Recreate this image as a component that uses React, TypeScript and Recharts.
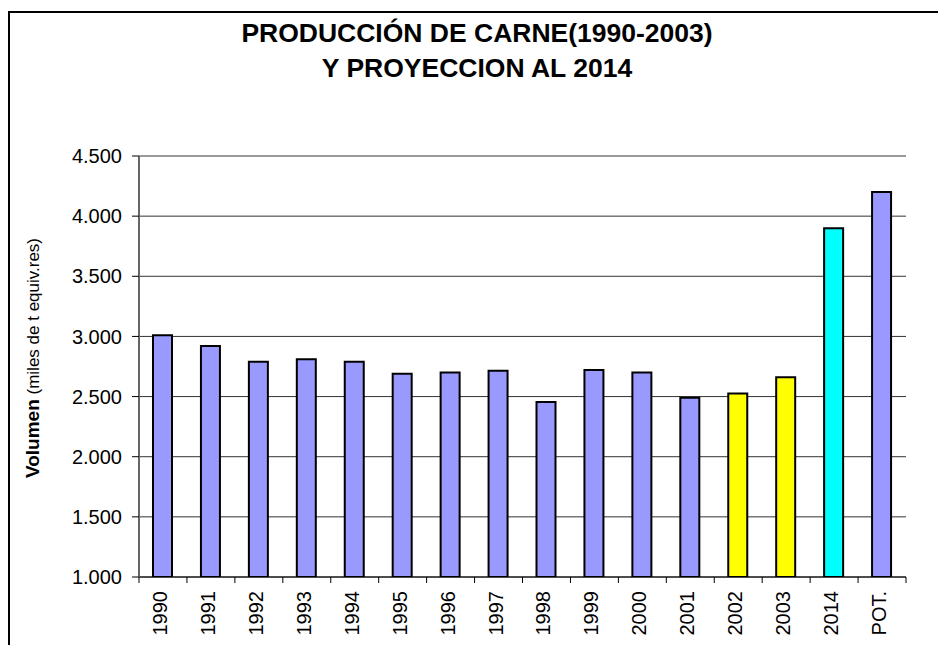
import React from 'react';
import { BarChart, Bar, Cell, XAxis, YAxis, CartesianGrid, ReferenceLine } from 'recharts';

// Producción de carne, miles de t equiv. res
const years = ['1990', '1991', '1992', '1993', '1994', '1995', '1996', '1997', '1998', '1999', '2000', '2001', '2002', '2003', '2014', 'POT.'];
const volumes = [3010, 2920, 2790, 2810, 2790, 2690, 2700, 2715, 2455, 2720, 2700, 2490, 2525, 2660, 3900, 4200];
const kinds = ['hist', 'hist', 'hist', 'hist', 'hist', 'hist', 'hist', 'hist', 'hist', 'hist', 'hist', 'hist', 'recent', 'recent', 'proj', 'hist'];
const yTicks = [1000, 1500, 2000, 2500, 3000, 3500, 4000, 4500];

const COLORS: Record<string, string> = {
  hist: '#9999FF',
  recent: '#FFFF00',
  proj: '#00FFFF',
};

const W = 938;
const H = 645;
const MARGIN = { top: 156, right: 32, bottom: 0, left: 0 };
const Y_AXIS_W = 139;
const X_AXIS_H = 68;
const BAND = (W - MARGIN.left - MARGIN.right - Y_AXIS_W) / years.length;

const FONT = '"Liberation Sans", Arial, sans-serif';

const data = years.map((year, i) => ({ year, volume: volumes[i], kind: kinds[i] }));

const fmt = (v: number) => v.toLocaleString('de-DE');

function YearTick(props: any) {
  const { x, y, payload, index } = props;
  const last = index === years.length - 1;
  return (
    <g>
      <line x1={x - BAND / 2} x2={x - BAND / 2} y1={y} y2={y + 6} stroke="#000" />
      {last && <line x1={x + BAND / 2} x2={x + BAND / 2} y1={y} y2={y + 6} stroke="#000" />}
      <text
        x={x - 3}
        y={y + 14}
        transform={`rotate(-90, ${x - 3}, ${y + 14})`}
        textAnchor="end"
        dominantBaseline="central"
        fontSize={20}
        fontFamily={FONT}
        fill="#000"
      >
        {payload.value}
      </text>
    </g>
  );
}

export default function App() {
  return (
    <div style={{ position: 'absolute', left: 0, top: 0, width: W, height: H, overflow: 'hidden', background: '#fff' }}>
      <div
        style={{
          position: 'absolute',
          left: 8,
          top: 11,
          width: W + 50,
          height: H + 50,
          borderLeft: '2px solid #000',
          borderTop: '2px solid #000',
        }}
      />
      <div
        style={{
          position: 'absolute',
          left: 0,
          top: 16,
          width: 954,
          textAlign: 'center',
          fontFamily: FONT,
          fontWeight: 'bold',
          fontSize: 26.5,
          lineHeight: '34.5px',
          color: '#000',
        }}
      >
        <div>PRODUCCIÓN DE CARNE(1990-2003)</div>
        <div>Y PROYECCION AL 2014</div>
      </div>
      <div
        style={{
          position: 'absolute',
          left: 33,
          top: 358,
          transform: 'translate(-50%, -50%) rotate(-90deg)',
          whiteSpace: 'nowrap',
          fontFamily: FONT,
          color: '#000',
        }}
      >
        <span style={{ fontWeight: 'bold', fontSize: 19 }}>Volumen</span>
        <span style={{ fontSize: 17 }}> (miles de t equiv.res)</span>
      </div>
      <div style={{ position: 'absolute', left: 0, top: 0 }}>
        <BarChart width={W} height={H} data={data} margin={MARGIN}>
          <CartesianGrid vertical={false} stroke="#333" />
          <XAxis
            dataKey="year"
            height={X_AXIS_H}
            interval={0}
            tickSize={0}
            tickMargin={0}
            tickLine={false}
            axisLine={{ stroke: '#000', strokeWidth: 1 }}
            tick={<YearTick />}
          />
          <YAxis
            width={Y_AXIS_W}
            domain={[1000, 4500]}
            ticks={yTicks}
            tickFormatter={fmt}
            tickSize={7}
            tickMargin={10}
            tickLine={{ stroke: '#000' }}
            axisLine={{ stroke: '#666', strokeWidth: 2 }}
            tick={{ fill: '#000', fontSize: 20, fontFamily: FONT }}
            allowDataOverflow
          />
          <YAxis
            yAxisId="right"
            orientation="right"
            width={0}
            domain={[1000, 4500]}
            tick={false}
            tickLine={false}
            axisLine={{ stroke: '#999', strokeWidth: 2 }}
          />
          <ReferenceLine y={4500} stroke="#999" strokeWidth={2} />
          <Bar dataKey="volume" barSize={19} stroke="#000" strokeWidth={2} isAnimationActive={false}>
            {data.map((d) => (
              <Cell key={d.year} fill={COLORS[d.kind]} />
            ))}
          </Bar>
        </BarChart>
      </div>
    </div>
  );
}
